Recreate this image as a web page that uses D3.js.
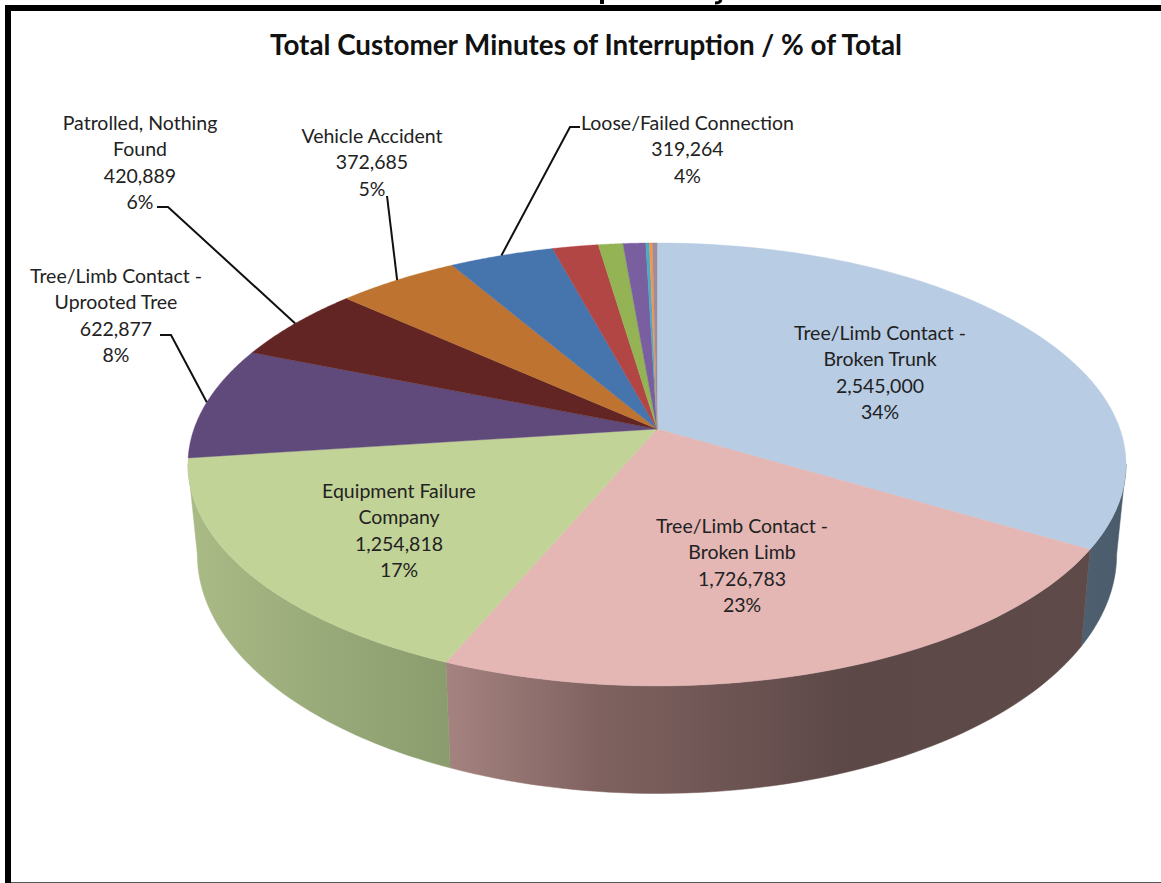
<!DOCTYPE html>
<html><head><meta charset="utf-8">
<script src="https://cdnjs.cloudflare.com/ajax/libs/d3/7.8.5/d3.min.js"></script>
<style>html,body{margin:0;padding:0;background:#fff}svg{display:block}text{font-family:Lato,"Open Sans",sans-serif}</style>
</head><body><svg id="c" width="1161" height="883"></svg>
<script>
const categories = ["Tree/Limb Contact - Broken Trunk","Tree/Limb Contact - Broken Limb","Equipment Failure Company","Tree/Limb Contact - Uprooted Tree","Patrolled, Nothing Found","Vehicle Accident","Loose/Failed Connection","Other A","Other B","Other C","Other D","Other E","Other F"];
const values = [2545000,1726783,1254818,622877,420889,372685,319264,140000,75000,69000,11000,9000,14000];
const percents = ["34%","23%","17%","8%","6%","5%","4%"];
const valueLabels = ["2,545,000","1,726,783","1,254,818","622,877","420,889","372,685","319,264"];
const topColors = ["#B8CCE4","#E4B6B4","#C2D398","#604A7B","#632523","#BE7331","#4675AE","#B24644","#93B354","#7A5FA0","#4BACC6","#F79646","#A08C9C"];
const labelLines = [["Tree/Limb Contact -","Broken Trunk"],["Tree/Limb Contact -","Broken Limb"],["Equipment Failure","Company"],["Tree/Limb Contact -","Uprooted Tree"],["Patrolled, Nothing","Found"],["Vehicle Accident"],["Loose/Failed Connection"]];
// label centre x, first baseline y
const labelPos = [[880,340],[742,533],[399,498],[116,283],[140,130],[372,143],[687.5,130]];
const leaders = {3:[[160,335],[171,335]],4:[[157,207],[168,207]],5:[[387,196],[387,196]],6:[[580,127],[570,127]]};
const wallStops = [
 {i:0,stops:[[1085,"#4E6070"],[1125,"#4A5C6C"]]},
 {i:1,stops:[[449,"#A4827F"],[600,"#7F6260"],[850,"#5C4847"],[1090,"#5E4A49"]]},
 {i:2,stops:[[195,"#A9BA85"],[300,"#9CAD7C"],[452,"#8A9C6D"]]}
];
const svg = d3.select("#c");
// descender fragments of a heading cut off by the top of the picture
svg.append("path").attr("d","M602 0V4").attr("stroke","#000").attr("stroke-width",4).attr("fill","none");
svg.append("path").attr("d","M721 0Q720 3 715 3").attr("stroke","#000").attr("stroke-width",3).attr("fill","none");
// frame
svg.append("rect").attr("x",8).attr("y",8).attr("width",1170).attr("height",900).attr("fill","#fff").attr("stroke","#000").attr("stroke-width",6);
svg.append("line").attr("x1",11).attr("x2",1161).attr("y1",882.5).attr("y2",882.5).attr("stroke","#555").attr("stroke-width",1);
svg.append("text").attr("x",586).attr("y",55).attr("text-anchor","middle").attr("font-size",27.8).attr("font-weight",700).attr("fill","#111").text("Total Customer Minutes of Interruption / % of Total");

const pie = d3.pie().sort(null).value(d=>d)(values);
const cx=657, cy=429, bx=463, by=215.8, k=0.16;
const proj=(t,sx=1,sy=1,y0=cy)=>{const s=Math.sin(t),c=Math.cos(t),w=1+k*c;return [cx+sx*bx*s/w, y0+sy*by*(-c)/w];};
const line=d3.line();
const tR=Math.PI-Math.acos(k), tL=Math.PI+Math.acos(k);
const sampled=(a,b,f)=>d3.range(0,61).map(i=>f(a+(b-a)*i/60));
const lower=t=>proj(t,0.98,1.08,516);
const defs=svg.append("defs");
// walls
wallStops.forEach(w=>{
  const d=pie[w.i];
  const a=Math.max(d.startAngle,tR), b=Math.min(d.endAngle,tL);
  const gid="g"+w.i, x0=w.stops[0][0], x1=w.stops[w.stops.length-1][0];
  const g=defs.append("linearGradient").attr("id",gid).attr("gradientUnits","userSpaceOnUse").attr("x1",x0).attr("x2",x1).attr("y1",0).attr("y2",0);
  w.stops.forEach(s=>g.append("stop").attr("offset",(s[0]-x0)/(x1-x0)).attr("stop-color",s[1]));
  const pts=sampled(a,b,proj).concat(sampled(b,a,lower));
  svg.append("path").attr("d",line(pts)+"Z").attr("fill",`url(#${gid})`).attr("stroke",`url(#${gid})`).attr("stroke-width",.5);
});
// top
svg.append("g").selectAll("path").data(pie).join("path")
  .attr("d",d=>line([[cx,cy]].concat(sampled(d.startAngle,d.endAngle,proj)))+"Z")
  .attr("fill",(d,i)=>topColors[i]).attr("stroke",(d,i)=>topColors[i]).attr("stroke-width",.4);
// leaders
Object.keys(leaders).forEach(i=>{
  const d=pie[+i], m=(d.startAngle+d.endAngle)/2, p=proj(m);
  svg.append("path").attr("d",line(leaders[i].concat([p]))).attr("fill","none").attr("stroke","#111").attr("stroke-width",2);
});
// labels
labelPos.forEach((p,i)=>{
  const t=svg.append("text").attr("text-anchor","middle").attr("font-size",19.5).attr("fill","#222");
  const rows=labelLines[i].concat([valueLabels[i],percents[i]]);
  rows.forEach((r,j)=>t.append("tspan").attr("x",p[0]).attr("y",p[1]+j*26.3).text(r));
});
</script></body></html>
